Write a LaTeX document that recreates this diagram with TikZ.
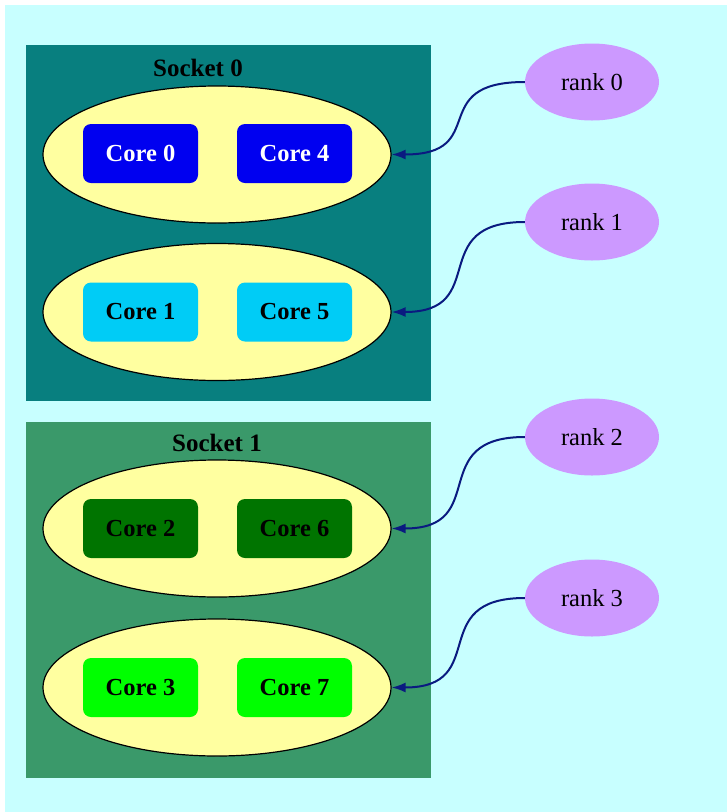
\documentclass[tikz,border=0pt]{standalone}
\usepackage{fontspec}
\setmainfont{Liberation Serif}
\usetikzlibrary{shapes.geometric, arrows.meta, positioning}

\definecolor{bgcyan}{HTML}{C8FFFF}
\definecolor{socketteal}{HTML}{087F7F}
\definecolor{socketgreen}{HTML}{3A996A}
\definecolor{chipyellow}{HTML}{FFFFA0}
\definecolor{coreblue}{HTML}{0000F0}
\definecolor{coresky}{HTML}{00CCF6}
\definecolor{coredark}{HTML}{007400}
\definecolor{corelime}{HTML}{00FF00}
\definecolor{rankpurple}{HTML}{CC99FF}
\definecolor{bindnavy}{HTML}{0A1A80}

\tikzset{
  sock/.style={rectangle, inner sep=0pt, minimum width=405pt, minimum height=356pt},
  socklabel/.style={font=\fontsize{25}{28}\selectfont\bfseries},
  chip/.style={ellipse, draw=black, line width=1.2pt, fill=chipyellow, minimum width=348pt, minimum height=137pt},
  core/.style={rectangle, rounded corners=8pt, minimum width=115pt, minimum height=59pt, font=\fontsize{24.5}{28}\selectfont\bfseries},
  rank/.style={ellipse, fill=rankpurple, minimum width=134pt, minimum height=77pt, font=\fontsize{24.5}{28}\selectfont},
  bind/.style={draw=bindnavy, line width=2pt, -{Latex[length=14pt,width=10pt]}},
}

\begin{document}
\begin{tikzpicture}[x=1pt,y=-1pt]

% page
\fill[white] (0,0) rectangle (727,812);
\fill[bgcyan] (5,5) rectangle (727,812);

% socket 0
\node[sock, fill=socketteal] (s0) at (228,222.5) {};
\node[socklabel] (s0label) at (198,68) {Socket 0};
\node[chip] (l0) at (217,154.5) {};
\node[chip] (l1) at (217,312) {};
\node[core, fill=coreblue, text=white] (c0) at (140.5,153.5) {Core 0};
\node[core, fill=coreblue, text=white] (c4) at (294.5,153.5) {Core 4};
\node[core, fill=coresky] (c1) at (140.5,312) {Core 1};
\node[core, fill=coresky] (c5) at (294.5,312) {Core 5};

% socket 1
\node[sock, fill=socketgreen] (s1) at (228.5,599.5) {};
\node[socklabel] (s1label) at (217,443) {Socket 1};
\node[chip] (l2) at (217,528.5) {};
\node[chip] (l3) at (217,687.5) {};
\node[core, fill=coredark] (c2) at (140.5,528.5) {Core 2};
\node[core, fill=coredark] (c6) at (294.5,528.5) {Core 6};
\node[core, fill=corelime] (c3) at (140.5,687.5) {Core 3};
\node[core, fill=corelime] (c7) at (294.5,687.5) {Core 7};

% ranks
\node[rank] (r0) at (592,82) {rank 0};
\node[rank] (r1) at (592,222) {rank 1};
\node[rank] (r2) at (592,437) {rank 2};
\node[rank] (r3) at (592,598) {rank 3};

\draw[bind] (r0.west) .. controls +(-100,0) and +(100,0) .. (l0.east);
\draw[bind] (r1.west) .. controls +(-100,0) and +(100,0) .. (l1.east);
\draw[bind] (r2.west) .. controls +(-100,0) and +(100,0) .. (l2.east);
\draw[bind] (r3.west) .. controls +(-100,0) and +(100,0) .. (l3.east);

\end{tikzpicture}
\end{document}
